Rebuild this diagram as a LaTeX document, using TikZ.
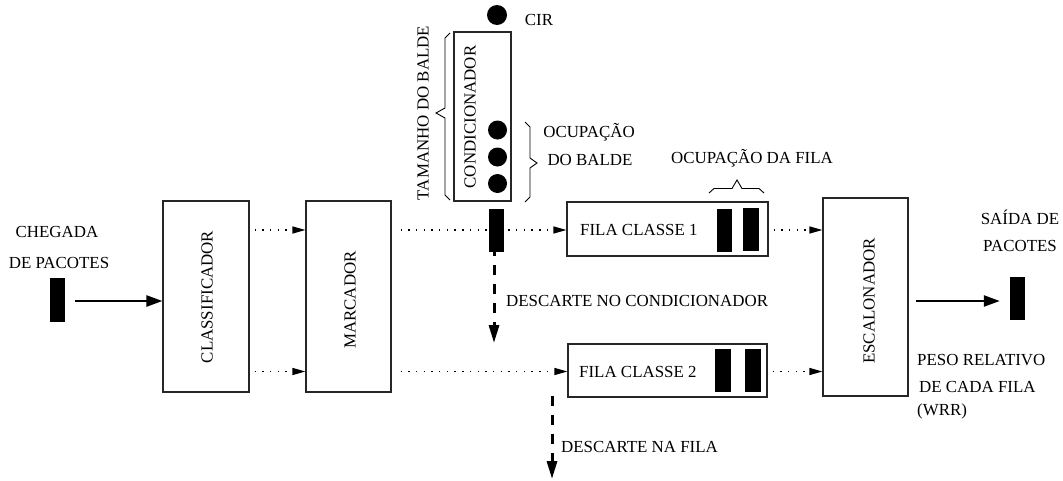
\documentclass[tikz,border=0pt]{standalone}
\usepackage{fontspec}
\setmainfont{Liberation Serif}
\usetikzlibrary{arrows.meta}
\begin{document}
\begin{tikzpicture}[x=1pt,y=-1pt,
  every node/.style={font=\fontsize{16.9}{20}\selectfont, inner sep=0pt},
  box/.style={draw=black!85, line width=1.1pt, fill=white},
  pkt/.style={fill=black, minimum width=15, minimum height=43},
  ball/.style={circle, fill=black, minimum size=19},
  solidarrow/.style={line width=2.4pt, -{Triangle[length=16pt,width=11pt]}},
  dotarrow/.style={line width=1.2pt, dash pattern=on 1.4pt off 6.3pt, -{Triangle[length=13pt,width=7pt]}},
  dasharrow/.style={line width=3pt, dash pattern=on 10pt off 9pt, -{Triangle[length=18pt,width=10pt]}},
  bracestyle/.style={line width=0.9pt, line join=miter},
  vtext/.style={rotate=90}
]
\path[use as bounding box] (0,0) rectangle (1063,480);

% lanes
\coordinate (lane1) at (0,230);
\coordinate (lane2) at (0,371.5);
\coordinate (laneout) at (0,301);

% packets entering
\node[pkt, minimum height=44] (inpkt) at (57.5,300) {};
\node (chg1) at (57,232) {CHEGADA};
\node (chg2) at (59,263) {DE PACOTES};

% main boxes
\node[box, minimum width=86, minimum height=191] (cls) at (206,296.5) {};
\node[vtext] at (207,297) {CLASSIFICADOR};
\node[box, minimum width=85, minimum height=191] (mrk) at (348.5,296.5) {};
\node[vtext] at (350,300) {MARCADOR};
\node[box, minimum width=85, minimum height=198] (esc) at (865.5,297) {};
\node[vtext] at (869,301) {ESCALONADOR};

% conditioner
\node[box, minimum width=57, minimum height=169] (cond) at (482.5,116.5) {};
\node[vtext] at (470,117) {CONDICIONADOR};
\node[ball, minimum size=20] (cir) at (497,15) {};
\node (cirl) at (539,20) {CIR};
\node[ball] (b1) at (497.5,130) {};
\node[ball] (b2) at (497.5,157) {};
\node[ball] (b3) at (497.5,183.5) {};
\node[vtext] (tam) at (423,113) {TAMANHO DO BALDE};
\node (ocp1) at (589,132) {OCUPAÇÃO};
\node (ocp2) at (590,160) {DO BALDE};

% queues
\node[box, minimum width=201, minimum height=54] (fila1) at (667.5,229) {};
\node[anchor=west] at (580,230) {FILA CLASSE 1};
\node[pkt] (q11) at (724.5,230.5) {};
\node[pkt, minimum width=16] (q12) at (751,229.5) {};
\node[box, minimum width=199, minimum height=53] (fila2) at (667.5,370.5) {};
\node[anchor=west] at (579,372) {FILA CLASSE 2};
\node[pkt, minimum width=16] (q21) at (723,370.5) {};
\node[pkt, minimum width=16] (q22) at (752.5,370.5) {};
\node (ocpf) at (752,158) {OCUPAÇÃO DA FILA};

% output
\node[pkt] (outpkt) at (1017.5,298.5) {};
\node (sai1) at (1020,217) {SAÍDA DE};
\node (sai2) at (1020,246) {PACOTES};
\node[anchor=west] (peso1) at (917,360) {PESO RELATIVO};
\node[anchor=west] (peso2) at (919,387) {DE CADA FILA};
\node[anchor=west] (peso3) at (917,411) {(WRR)};

% connectors
\draw[solidarrow] ([xshift=10pt]inpkt.east |- laneout) -- (cls.west |- laneout);
\draw[dotarrow] ([xshift=5pt]cls.east |- lane1) -- (mrk.west |- lane1);
\draw[dotarrow] ([xshift=5pt]cls.east |- lane2) -- (mrk.west |- lane2);
\draw[dotarrow] ([xshift=9pt]mrk.east |- lane1) -- (fila1.west |- lane1);
\draw[dotarrow] ([xshift=9pt]mrk.east |- lane2) -- (fila2.west |- lane2);
\draw[dotarrow] ([xshift=5pt]fila1.east |- lane1) -- (esc.west |- lane1);
\draw[dotarrow] ([xshift=5pt]fila2.east |- lane2) -- (esc.west |- lane2);
\draw[solidarrow] ([xshift=7pt]esc.east |- laneout) -- ([xshift=-10pt]outpkt.west |- laneout);

% conditioner packet (over the dotted line)
\node[pkt] (cpkt) at (496.5,230.5) {};

% drops
\coordinate (drop1) at (494,343);
\coordinate (drop2) at (552,479);
\draw[dasharrow] ([yshift=6pt]cpkt.south -| drop1) -- (drop1);
\draw[dasharrow] ([yshift=2pt]fila2.south -| drop2) -- (drop2);
\node[anchor=west] at (506,301) {DESCARTE NO CONDICIONADOR};
\node[anchor=west] at (561,447) {DESCARTE NA FILA};

% braces
\draw[bracestyle] (450,33) -- (445,38) -- (445,108) -- (436,113) -- (445,118) -- (445,195) -- (450,200);
\draw[bracestyle] (525,122) -- (530,127) -- (530,158) -- (537,163) -- (530,168) -- (530,197) -- (525,202);
\draw[bracestyle] (709,193) -- (714,188.5) -- (732,188.5) -- (737,180) -- (742,188.5) -- (759,188.5) -- (764,193);
\end{tikzpicture}
\end{document}
